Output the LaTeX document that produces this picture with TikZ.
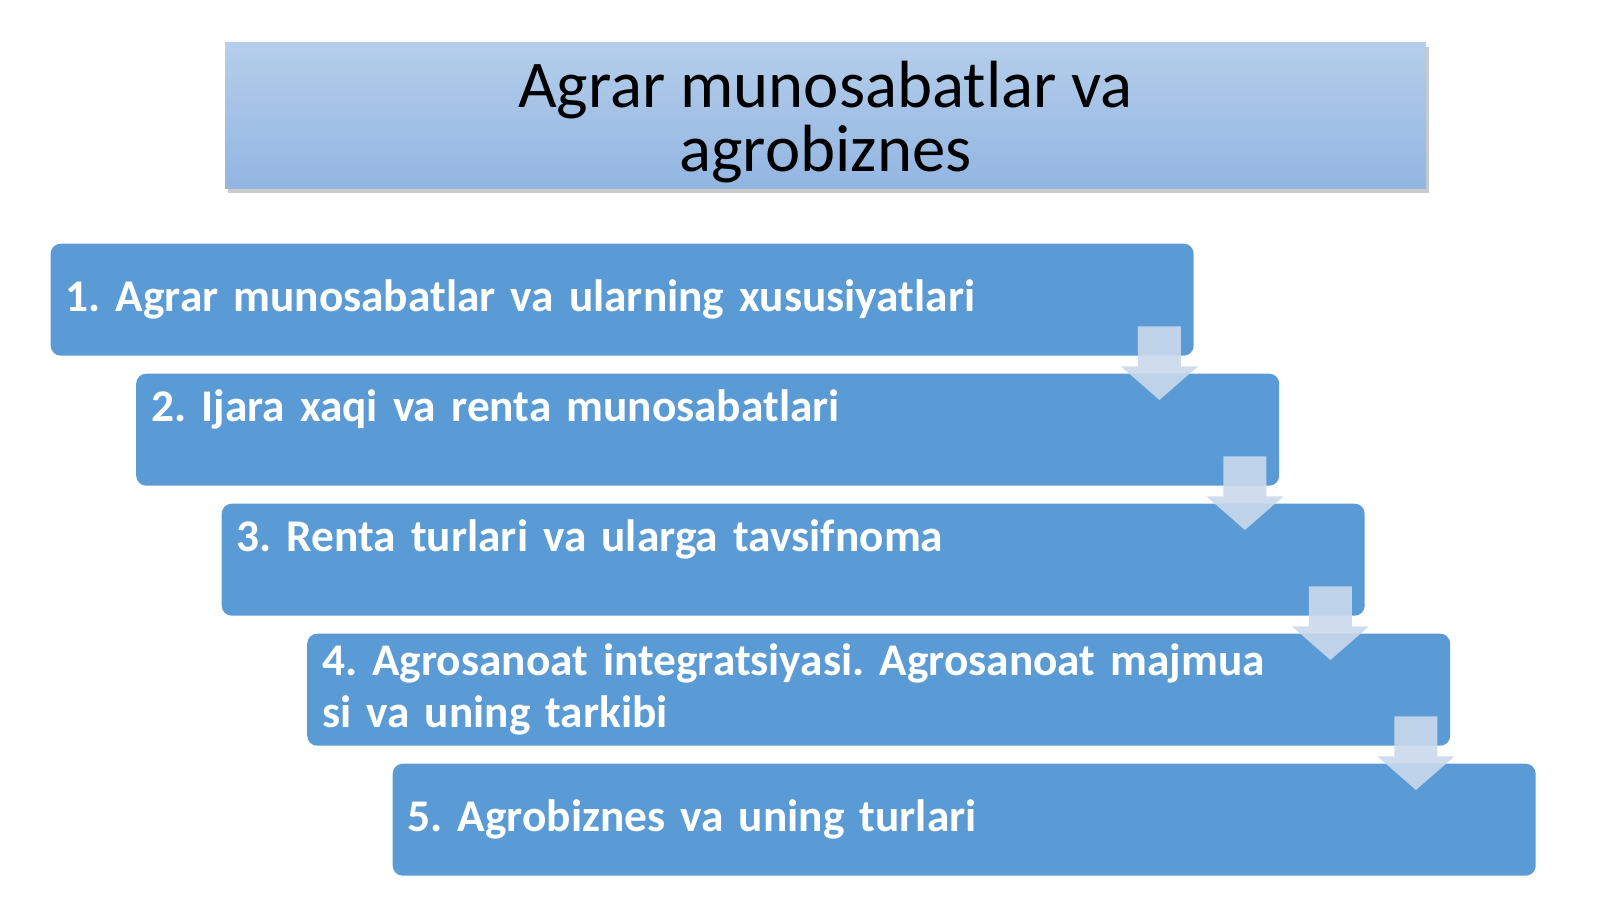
\documentclass[tikz,border=0pt]{standalone}
\usepackage{fontspec}
\setmainfont{Carlito}
\usepackage{xcolor}
\usetikzlibrary{shadows,calc}
\frenchspacing

\definecolor{stepblue}{HTML}{5B9BD5}
\definecolor{titletop}{HTML}{B5CEEB}
\definecolor{titlebot}{HTML}{92B5E1}
\definecolor{arrowblue}{HTML}{C9D8EC}

\tikzset{
  titlebox/.style={rectangle, top color=titletop, bottom color=titlebot,
    minimum width=12.01cm, minimum height=1.46cm, inner sep=0pt, align=center,
    text depth=0pt, font=\fontsize{19}{18.2}\selectfont,
    drop shadow={shadow xshift=0.03cm, shadow yshift=-0.04cm, opacity=0.35, fill=black!60}},
  stepbox/.style={rectangle, rounded corners=0.1cm, fill=stepblue, anchor=north west,
    minimum width=11.43cm, minimum height=1.12cm, text width=11.13cm,
    inner xsep=0.15cm, inner ysep=0pt, align=left, text=white,
    font=\fontsize{12.9}{14.8}\selectfont\bfseries},
  steparrow/.style={fill=arrowblue, opacity=0.9}
}

\begin{document}
\begin{tikzpicture}
\useasboundingbox (0,0) rectangle (16,-8.99);
% sarlavha
\node [titlebox] (title) at (8.255,-1.16) {Agrar munosabatlar va\\agrobiznes};
% bosqichlar
\node [stepbox] (s1) at (0.50,-2.43) {1. Agrar munosabatlar va ularning xususiyatlari};
\node [stepbox] (s2) at (1.355,-3.73) {2. Ijara xaqi va renta munosabatlari\\[-0.19cm]\strut};
\node [stepbox] (s3) at (2.21,-5.03) {3. Renta turlari va ularga tavsifnoma\\[-0.19cm]\strut};
\node [stepbox] (s4) at (3.065,-6.33) {4. Agrosanoat integratsiyasi. Agrosanoat majmua\\si va uning tarkibi};
\node [stepbox] (s5) at (3.92,-7.63) {5. Agrobiznes va uning turlari};
% strelkalar
\coordinate (a1) at ([xshift=-3.5mm]s1.south east);
\coordinate (a2) at ([xshift=-3.5mm]s2.south east);
\coordinate (a3) at ([xshift=-3.5mm]s3.south east);
\coordinate (a4) at ([xshift=-3.5mm]s4.south east);
\fill [steparrow] (a1) ++(-2.15mm,3mm) -- ++(4.3mm,0) -- ++(0,-4mm) -- ++(1.7mm,0)
  -- ($(s2.north -| a1)+(0,-2.7mm)$) -- ([xshift=-3.85mm,yshift=-1mm]a1) -- ++(1.7mm,0) -- cycle;
\fill [steparrow] (a2) ++(-2.15mm,3mm) -- ++(4.3mm,0) -- ++(0,-4mm) -- ++(1.7mm,0)
  -- ($(s3.north -| a2)+(0,-2.7mm)$) -- ([xshift=-3.85mm,yshift=-1mm]a2) -- ++(1.7mm,0) -- cycle;
\fill [steparrow] (a3) ++(-2.15mm,3mm) -- ++(4.3mm,0) -- ++(0,-4mm) -- ++(1.7mm,0)
  -- ($(s4.north -| a3)+(0,-2.7mm)$) -- ([xshift=-3.85mm,yshift=-1mm]a3) -- ++(1.7mm,0) -- cycle;
\fill [steparrow] (a4) ++(-2.15mm,3mm) -- ++(4.3mm,0) -- ++(0,-4mm) -- ++(1.7mm,0)
  -- ($(s5.north -| a4)+(0,-2.7mm)$) -- ([xshift=-3.85mm,yshift=-1mm]a4) -- ++(1.7mm,0) -- cycle;
\end{tikzpicture}
\end{document}
